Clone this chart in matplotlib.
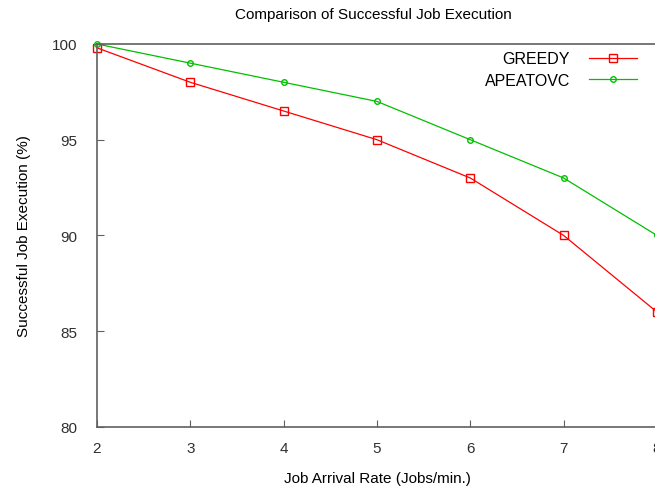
import matplotlib.pyplot as plt

# job arrival rate vs. percent of jobs executed successfully
rates = [2, 3, 4, 5, 6, 7, 8]
greedy = [99.8, 98, 96.5, 95, 93, 90, 86]
apeatovc = [100, 99, 98, 97, 95, 93, 90]

plt.rcParams['font.family'] = 'Liberation Sans'
plt.rcParams['font.size'] = 11

fig = plt.figure(figsize=(6.55, 4.89), dpi=100)
ax = fig.add_axes([0.148, 0.125, 0.855, 0.783])

ax.plot(rates, greedy, color='#ff0000', lw=0.9, marker='s', ms=5.5,
        mfc='none', mec='#ff0000', mew=1.0, label='GREEDY', clip_on=False)
ax.plot(rates, apeatovc, color='#00c000', lw=0.9, marker='o', ms=4,
        mfc='none', mec='#00c000', mew=1.0, label='APEATOVC', clip_on=False)

ax.set_xlim(2, 8)
ax.set_ylim(80, 100)
ax.set_xticks(rates)
ax.set_yticks([80, 85, 90, 95, 100])

fig.text(0.57, 0.969, 'Comparison of Successful Job Execution', fontsize=11,
         ha='center', va='center')
ax.set_xlabel('Job Arrival Rate (Jobs/min.)', labelpad=12)
ax.set_ylabel('Successful Job Execution (%)', labelpad=15)

for s in ax.spines.values():
    s.set_color('#606060')
    s.set_linewidth(1.2)
ax.tick_params(direction='in', length=5, color='#606060', pad=10, labelcolor='#303030')
ax.tick_params(axis='y', pad=14)

ax.legend(loc='upper right', bbox_to_anchor=(0.99, 1.018), frameon=False,
          markerfirst=False, handlelength=3.0, handletextpad=1.2,
          fontsize=11.5, labelspacing=0.4)

fig.savefig('out.png', dpi=100)
